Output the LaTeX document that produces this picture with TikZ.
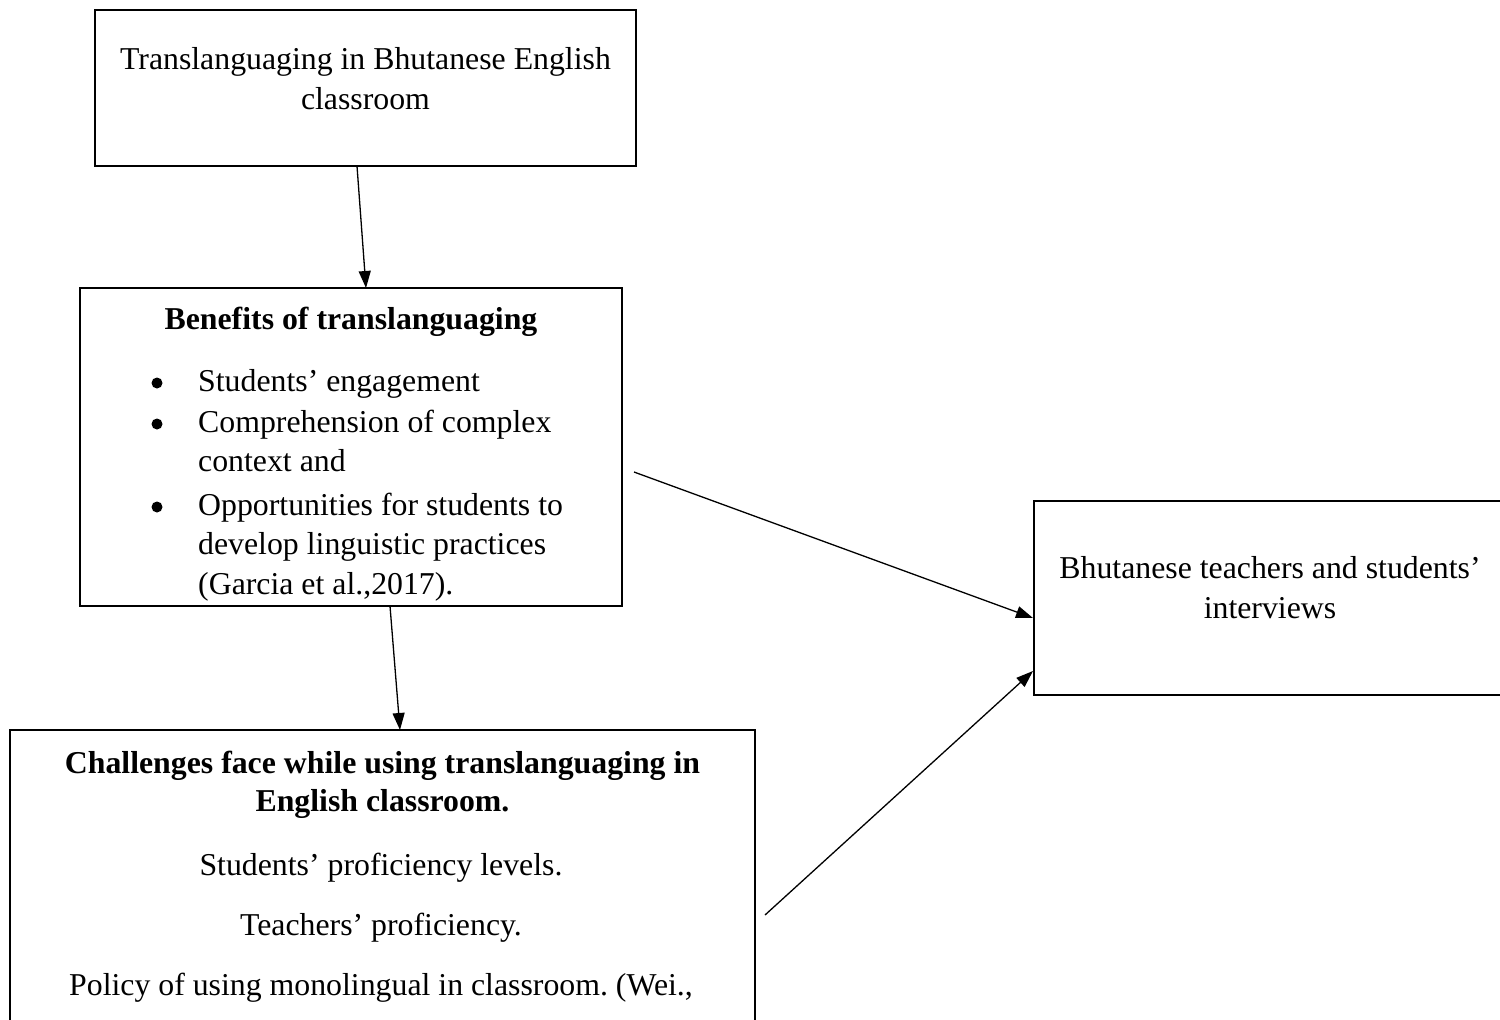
\documentclass[tikz,border=0pt]{standalone}
\usepackage{fontspec}
\setmainfont{Liberation Serif}
\usetikzlibrary{arrows.meta}
\frenchspacing
\begin{document}
\begin{tikzpicture}[x=1pt,y=-1pt,
  box/.style={draw, line width=2.7pt, inner sep=0pt},
  txt/.style={inner sep=0pt, anchor=base, font=\fontsize{31.8}{40}\selectfont},
  btxt/.style={txt, font=\fontsize{31.8}{40}\selectfont\bfseries},
  ltxt/.style={txt, anchor=base west},
  bul/.style={circle, fill=black, inner sep=0pt, minimum size=11pt},
  arr/.style={line width=1.3pt, -{Triangle[length=17pt,width=12pt]}}]
\useasboundingbox (0,0) rectangle (1500,1020);
\clip (0,0) rectangle (1500,1020);
\fill[white] (0,0) rectangle (1500,1020);

% boxes
\node[box, minimum width=541pt, minimum height=156pt] (b1) at (365.5,88) {};
\node[box, minimum width=542pt, minimum height=318pt] (b2) at (351,447) {};
\node[box, minimum width=745pt, minimum height=330pt] (b3) at (382.5,895) {};
\node[box, minimum width=476pt, minimum height=194pt] (b4) at (1272,598) {};

% box 1 text
\node[txt] (t1a) at (365.5,69) {Translanguaging in Bhutanese English};
\node[txt] (t1b) at (365.5,109) {classroom};

% box 2 text
\node[btxt] (t2h) at (351,329) {Benefits of translanguaging};
\node[bul] (u1) at (157,383) {};
\node[ltxt] (l1) at (198,391) {Students’ engagement};
\node[bul] (u2) at (157,424) {};
\node[ltxt] (l2) at (198,432) {Comprehension of complex};
\node[ltxt] (l3) at (198,471) {context and};
\node[bul] (u3) at (157,507) {};
\node[ltxt] (l4) at (198,515) {Opportunities for students to};
\node[ltxt] (l5) at (198,554) {develop linguistic practices};
\node[ltxt] (l6) at (198,594) {(Garcia et al.,2017).};

% box 3 text
\node[btxt] (t3a) at (382.5,773) {Challenges face while using translanguaging in};
\node[btxt] (t3b) at (382.5,811) {English classroom.};
\node[txt] (t3c) at (381,875) {Students’ proficiency levels.};
\node[txt] (t3d) at (381,935) {Teachers’ proficiency.};
\node[txt] (t3e) at (381,995) {Policy of using monolingual in classroom. (Wei.,};

% box 4 text
\node[txt] (t4a) at (1270,578) {Bhutanese teachers and students’};
\node[txt] (t4b) at (1270,618) {interviews};

% connector end points
\coordinate (a1s) at (357,166);
\coordinate (a1e) at (366,288);
\coordinate (a2s) at (390,606);
\coordinate (a2e) at (400,730);
\coordinate (a3s) at (634,472);
\coordinate (a3e) at (1033,618);
\coordinate (a4s) at (765,915);
\coordinate (a4e) at (1033,671);

\draw[arr] (a1s) -- (a1e);
\draw[arr] (a2s) -- (a2e);
\draw[arr] (a3s) -- (a3e);
\draw[arr] (a4s) -- (a4e);
\end{tikzpicture}
\end{document}
